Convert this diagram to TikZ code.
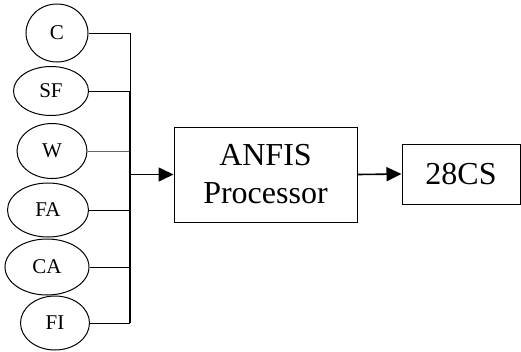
\documentclass[tikz,border=0pt]{standalone}
\usepackage{fontspec}
\setmainfont{Liberation Serif}
\usetikzlibrary{shapes.geometric,arrows.meta}

\begin{document}
\begin{tikzpicture}[x=1pt,y=-1pt,
    input/.style={draw,ellipse,line width=1pt,inner sep=0pt,
        font=\fontsize{21}{24}\selectfont},
    block/.style={draw,rectangle,line width=1pt,inner sep=0pt,align=center,
        font=\fontsize{32}{38}\selectfont},
    feed/.style={line width=1pt},
    flow/.style={line width=1.6pt,-{Triangle[length=15pt,width=14pt]}}]
    \useasboundingbox (0,0) rectangle (521,351);

    % inputs
    \node[input,minimum width=62pt,minimum height=58pt] (c)  at (57,33)  {C};
    \node[input,minimum width=75pt,minimum height=49pt] (sf) at (51,91)  {SF};
    \node[input,minimum width=70pt,minimum height=55pt] (w)  at (52,151) {W};
    \node[input,minimum width=81pt,minimum height=54pt] (fa) at (48,210) {FA};
    \node[input,minimum width=84pt,minimum height=56pt] (ca) at (47,267) {CA};
    \node[input,minimum width=69pt,minimum height=54pt] (fi) at (55,323) {FI};

    % blocks
    \node[block,minimum width=183pt,minimum height=95pt] (anfis) at (265.5,174.5) {ANFIS\\Processor};
    \node[block,minimum width=118pt,minimum height=60pt] (out) at (461,174) {28CS};

    % bus points
    \coordinate (jc)  at (130,33);
    \coordinate (jsf) at (130,91);
    \coordinate (jw)  at (130,151);
    \coordinate (jfa) at (130,210);
    \coordinate (jca) at (130,267);
    \coordinate (jfi) at (130,323);
    \coordinate (jin) at (130,174.5);

    % feeds into the bus
    \draw[feed] (c.east) -- (jc) -- (jsf);
    \draw[feed] (sf.east) -- (jsf);
    \draw[line width=0.5pt,black!60] (w.east) -- (jw);
    \draw[feed] (fa.east) -- (jfa);
    \draw[feed] (ca.east) -- (jca);
    \draw[feed] (fi.east) -- (jfi);
    \draw[line width=1.6pt] (jsf) -- (jfi);

    % arrows
    \draw[flow] (jin) -- (anfis.west);
    \draw[flow] (anfis.east) -- (out.west);
\end{tikzpicture}
\end{document}
